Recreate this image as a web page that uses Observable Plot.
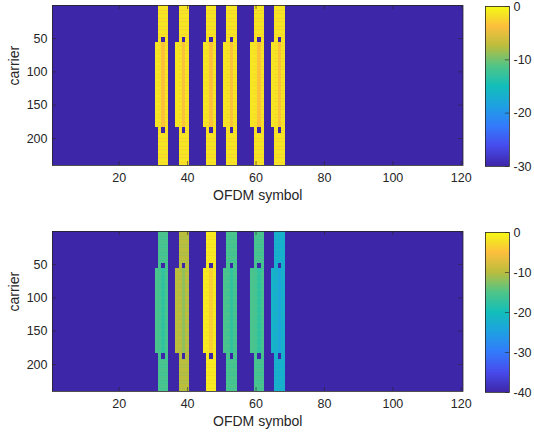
<!DOCTYPE html>
<html><head><meta charset="utf-8">
<script src="https://cdn.jsdelivr.net/npm/d3@7"></script>
<script src="https://cdn.jsdelivr.net/npm/@observablehq/plot@0.6"></script>
<style>
body{margin:0;background:#fff;}
#chart{position:relative;width:534px;height:434px;font-family:"Liberation Sans",Arial,Helvetica,sans-serif;}
#chart svg{position:absolute;overflow:visible;}
</style></head><body><div id="chart"></div>
<script>
// ---- data ----
const nSymbols = 120;
const nCarriers = 240;
const ssbStartSymbols = [31, 37, 45, 51, 59, 65];   // first OFDM symbol (PSS) of each SS block
const ssbPowerTop = [-1.5, -1.5, -1.5, -1.5, -1.5, -1.5];        // dB
const ssbPowerBottom = [-15.5, -10, -1.5, -15.5, -15.5, -22];    // dB
const pssRows = [57, 183];
const sssRows = [57, 183];
const pbchEdgeRows = [[1, 48], [193, 240]];
const dmrsPeriod = 4;
const dmrsOffsetDb = -1;
const sssOffsetDb = -2;
const climTop = [-30, 0];
const climBottom = [-40, 0];
const xTicks = [20, 40, 60, 80, 100, 120];
const yTicks = [50, 100, 150, 200];
const cbTicksTop = [0, -10, -20, -30];
const cbTicksBottom = [0, -10, -20, -30, -40];
const xLabel = "OFDM symbol";
const yLabel = "carrier";
const parulaStops = ["#3e26a8", "#474bec", "#337afc", "#1ea0e2", "#12beb9", "#50c587", "#bbbd3d", "#fdbf3d", "#f5e026", "#f9fb15"];
const parulaPos =   [0, 0.125, 0.25, 0.375, 0.5, 0.625, 0.75, 0.875, 0.94, 1];

// ---- helpers ----
const parula = t => {
  t = Math.max(0, Math.min(1, t));
  let i = 1; while (i < parulaPos.length - 1 && t > parulaPos[i]) i++;
  const a = parulaPos[i-1], b = parulaPos[i];
  return d3.interpolateRgb(parulaStops[i-1], parulaStops[i])((t - a) / (b - a));
};
const INK = "#262626";
const font = '"Liberation Sans", Arial, Helvetica, sans-serif';

function seg(cells, col, r1, r2, v) { cells.push({x1: col - 0.5, x2: col + 0.5, y1: r1 - 0.5, y2: r2 + 0.5, v}); }
function pbch(cells, col, r1, r2, p) {
  seg(cells, col, r1, r2, p);
  for (let r = r1; r <= r2; r++) if ((r - 1) % dmrsPeriod === 0) seg(cells, col, r, r, p + dmrsOffsetDb);
}
function buildCells(powers, vmin) {
  const cells = [];
  seg(cells, 1, 1, nCarriers, vmin);
  cells[0].x2 = nSymbols + 0.5;
  ssbStartSymbols.forEach((c0, i) => {
    const p = powers[i];
    seg(cells, c0, pssRows[0], pssRows[1], p);
    pbch(cells, c0 + 1, 1, nCarriers, p);
    pbch(cells, c0 + 2, pbchEdgeRows[0][0], pbchEdgeRows[0][1], p);
    seg(cells, c0 + 2, sssRows[0], sssRows[1], p + sssOffsetDb);
    pbch(cells, c0 + 2, pbchEdgeRows[1][0], pbchEdgeRows[1][1], p);
    pbch(cells, c0 + 3, 1, nCarriers, p);
  });
  return cells;
}

function panel(powers, clim, top) {
  const svg = Plot.plot({
    width: 475, height: 215,
    marginLeft: 52, marginRight: 12.5, marginTop: 5, marginBottom: 50,
    style: {fontFamily: font, fontSize: "12.5px", color: INK, background: "transparent", overflow: "visible"},
    x: {domain: [0.5, nSymbols + 0.5]},
    y: {domain: [0.5, nCarriers + 0.5], reverse: true},
    color: {type: "linear", domain: clim, interpolate: parula, clamp: true},
    marks: [
      Plot.rect(buildCells(powers, clim[0]), {x1: "x1", x2: "x2", y1: "y1", y2: "y2", fill: "v", shapeRendering: "crispEdges"}),
      Plot.ruleX(xTicks, {x: d => d, y1: 0.5, y2: 6.5, stroke: INK, strokeWidth: 0.6}),
      Plot.ruleX(xTicks, {x: d => d, y1: nCarriers - 5.5, y2: nCarriers + 0.5, stroke: INK, strokeWidth: 0.6}),
      Plot.ruleY(yTicks, {y: d => d, x1: 0.5, x2: 1.7, stroke: INK, strokeWidth: 0.6}),
      Plot.ruleY(yTicks, {y: d => d, x1: nSymbols - 0.7, x2: nSymbols + 0.5, stroke: INK, strokeWidth: 0.6}),
      Plot.frame({stroke: INK, strokeWidth: 0.8}),
      Plot.axisX(xTicks, {tickSize: 0, tickPadding: 8, label: null, tickFormat: d => String(d)}),
      Plot.axisY(yTicks, {tickSize: 0, tickPadding: 5, label: null, tickFormat: d => String(d)}),
      Plot.text([xLabel], {frameAnchor: "bottom", dy: 34, fontSize: 14, fill: INK}),
      Plot.text([yLabel], {frameAnchor: "left", dx: -38, rotate: -90, fontSize: 14, fill: INK})
    ]
  });
  svg.style.left = "0px"; svg.style.top = top + "px";
  return svg;
}

function colorbar(clim, ticks, top) {
  const n = 240, step = (clim[1] - clim[0]) / n;
  const ramp = d3.range(n).map(i => clim[0] + i * step);
  const svg = Plot.plot({
    width: 64, height: 215,
    marginLeft: 15, marginRight: 25, marginTop: 5, marginBottom: 50,
    style: {fontFamily: font, fontSize: "12.5px", color: INK, background: "transparent", overflow: "visible"},
    x: {domain: [0, 1], axis: null},
    y: {domain: clim},
    color: {type: "linear", domain: clim, interpolate: parula, clamp: true},
    marks: [
      Plot.rect(ramp, {x1: 0, x2: 1, y1: d => d, y2: d => d + step * 1.02, fill: d => d + step / 2, shapeRendering: "crispEdges"}),
      Plot.ruleY(ticks, {y: d => d, x1: 0.83, x2: 1, stroke: INK, strokeWidth: 0.6}),
      Plot.frame({stroke: INK, strokeWidth: 0.8}),
      Plot.axisY(ticks, {anchor: "right", tickSize: 0, tickPadding: 4, label: null, tickFormat: d => String(d)})
    ]
  });
  svg.style.left = "470px"; svg.style.top = top + "px";
  return svg;
}

const root = document.getElementById("chart");
root.append(panel(ssbPowerTop, climTop, 0));
root.append(colorbar(climTop, cbTicksTop, 1));
root.append(panel(ssbPowerBottom, climBottom, 226));
root.append(colorbar(climBottom, cbTicksBottom, 227));
</script></body></html>
